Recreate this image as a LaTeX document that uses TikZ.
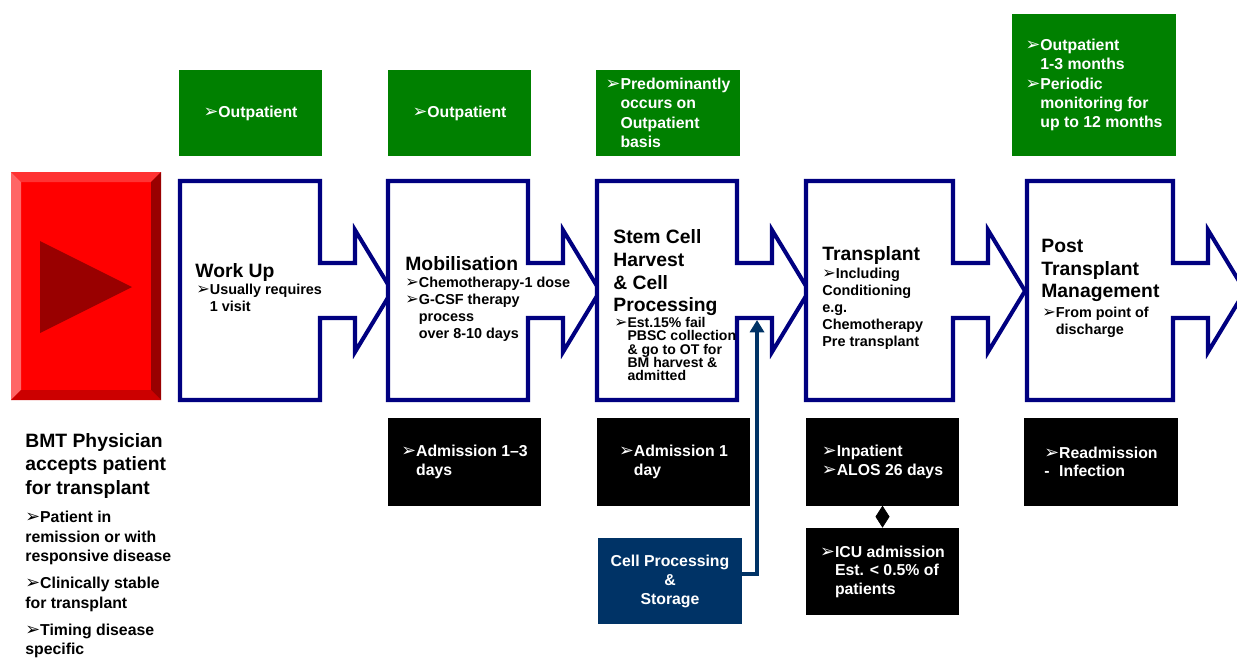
\documentclass[tikz,border=0pt]{standalone}
\usepackage{fontspec}
\setmainfont{Liberation Sans}
\newfontfamily\symfont[Scale=1.12]{DejaVu Sans}
\usetikzlibrary{arrows.meta}

\definecolor{navyline}{HTML}{000080}
\definecolor{opgreen}{HTML}{008000}
\definecolor{cellblue}{HTML}{003366}
\definecolor{btnred}{HTML}{FF0000}
\definecolor{btntop}{HTML}{FF3333}
\definecolor{btnleft}{HTML}{FF6666}
\definecolor{btnright}{HTML}{990000}
\definecolor{btnbottom}{HTML}{CC0000}

\newcommand\arrbul{{\symfont ➢}}
\newcommand\arrsp{\hphantom{\arrbul}}
% stage outline: left x, body width
\newcommand\stagearrow[2]{%
  \draw[stage] (#1,181) -- (#1+#2,181) -- (#1+#2,263) -- (#1+#2+35,263) -- (#1+#2+35,230)
    -- (#1+#2+72,291) -- (#1+#2+35,352) -- (#1+#2+35,318) -- (#1+#2,318) -- (#1+#2,400)
    -- (#1,400) -- cycle;}

\begin{document}
\begin{tikzpicture}[
    x=0.02cm, y=-0.02cm,
    stage/.style={draw=navyline, line width=2.3pt, fill=white, line join=miter},
    ttl/.style={anchor=north west, inner sep=0pt, align=left,
                font={\bfseries\fontsize{11}{13}\selectfont}},
    txt/.style={anchor=north west, inner sep=0pt, align=left,
                font={\bfseries\fontsize{8.2}{9.7}\selectfont}},
    gbox/.style={fill=opgreen, text=white, inner sep=0pt, align=left,
                 font={\bfseries\fontsize{9}{11}\selectfont}, minimum height=1.74cm},
    bbox/.style={fill=black, text=white, inner sep=0pt, align=left,
                 font={\bfseries\fontsize{9}{10.5}\selectfont},
                 minimum width=3.08cm, minimum height=1.76cm},
    cbox/.style={fill=cellblue, text=white, inner sep=0pt, align=center,
                 font={\bfseries\fontsize{9}{10.8}\selectfont},
                 minimum width=2.88cm, minimum height=1.72cm},
    feed/.style={draw=cellblue, line width=2.3pt, -{Triangle[length=7pt,width=8pt]}},
  ]
    \clip (0,0) rectangle (1237,659);

    % start button
    \fill[btnred] (11,172) rectangle (161,400);
    \fill[btntop] (11,172) -- (161,172) -- (151,182) -- (21,182) -- cycle;
    \fill[btnleft] (11,172) -- (21,182) -- (21,390) -- (11,400) -- cycle;
    \fill[btnright] (161,172) -- (161,400) -- (151,390) -- (151,182) -- cycle;
    \fill[btnbottom] (11,400) -- (161,400) -- (151,390) -- (21,390) -- cycle;
    \fill[btnright] (40,241) -- (132,287) -- (40,333) -- cycle;

    \node[ttl, font={\bfseries\fontsize{11}{13.3}\selectfont}] (bmt-t) at (25,433)
      {BMT Physician\\accepts patient\\for transplant};
    \node[txt, font={\bfseries\fontsize{9}{11}\selectfont}] (bmt-b) at (25,511)
      {\arrbul Patient in\\remission or with\\responsive disease\\[4.5pt]
       \arrbul Clinically stable\\for transplant\\[4.5pt]
       \arrbul Timing disease\\specific};

    % care setting (top row)
    \node[gbox, minimum width=2.86cm] (wu-g) at (250.5,113) {\arrbul Outpatient};
    \node[gbox, minimum width=2.86cm] (mo-g) at (459.5,113) {\arrbul Outpatient};
    \node[gbox, minimum width=2.90cm] (st-g) at (668,113)
      {\arrbul Predominantly\\\arrsp occurs on\\\arrsp Outpatient\\\arrsp basis};
    \node[gbox, minimum width=3.28cm, minimum height=2.84cm] (pt-g) at (1094,85)
      {\arrbul Outpatient\\\arrsp 1-3 months\\\arrbul Periodic\\\arrsp monitoring for\\\arrsp up to 12 months};

    % pathway stages
    \stagearrow{180}{140}
    \stagearrow{388}{140}
    \stagearrow{597}{140}
    \stagearrow{806}{147}
    \stagearrow{1027}{146}

    \node[ttl] (wu-t) at (195,263) {Work Up};
    \node[txt] (wu-b) at (196,284) {\arrbul Usually requires\\\arrsp 1 visit};

    \node[ttl] (mo-t) at (405,256) {Mobilisation};
    \node[txt] (mo-b) at (405,277)
      {\arrbul Chemotherapy-1 dose\\\arrbul G-CSF therapy\\\arrsp process\\\arrsp over 8-10 days};

    \node[ttl] (st-t) at (613,229) {Stem Cell\\Harvest\\\& Cell\\Processing};
    \node[txt, font={\bfseries\fontsize{8}{7.6}\selectfont\lineskiplimit=-5pt}] (st-b) at (614,317)
      {\arrbul Est.15\% fail\\\arrsp PBSC collection\\\arrsp \& go to OT for\\\arrsp BM harvest \&\\\arrsp admitted};

    \node[ttl] (tr-t) at (822,246) {Transplant};
    \node[txt] (tr-b) at (822,268)
      {\arrbul Including\\Conditioning\\e.g.\\Chemotherapy\\Pre transplant};

    \node[ttl, font={\bfseries\fontsize{11}{12.8}\selectfont}] (pt-t) at (1041,239)
      {Post\\Transplant\\Management};
    \node[txt] (pt-b) at (1042,307) {\arrbul From point of\\\arrsp discharge};

    % inpatient stays (bottom row)
    \node[bbox] (mo-k) at (464.5,462) {\arrbul Admission 1–3\\\arrsp days};
    \node[bbox] (st-k) at (673.5,462) {\arrbul Admission 1\\\arrsp day};
    \node[bbox] (tr-k) at (882.5,462) {\arrbul Inpatient\\\arrbul ALOS 26 days};
    \node[bbox] (pt-k) at (1101,462) {\arrbul Readmission\\\rlap{-}\arrsp Infection};
    \node[bbox, minimum height=1.74cm] (icu-k) at (882.5,571.5)
      {\arrbul ICU admission\\\arrsp Est. < 0.5\% of\\\arrsp patients};
    \node[cbox] (cp) at (670,581) {Cell Processing\\\&\\Storage};

    \coordinate (st-in) at (757,320);
    \draw[feed] ([yshift=4pt]cp.east) -| (st-in);
    \draw[-{Diamond[length=12.5pt,width=8pt]}] (tr-k.south) -- (icu-k.north);
  \end{tikzpicture}
\end{document}
